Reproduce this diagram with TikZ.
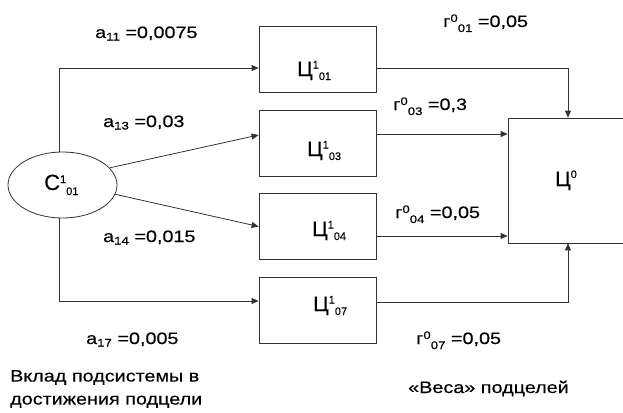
\documentclass[tikz,border=0pt]{standalone}
\usepackage{fontspec}
\setmainfont{Liberation Sans}[FakeBold=0.3]
\newfontfamily\labfam{Liberation Sans}[FakeStretch=1.2,FakeBold=0.4]
\usetikzlibrary{arrows.meta,shapes.geometric}

% small index shifted up (positive) or down (negative) by #1
\newcommand\idx[2]{\raisebox{#1}{\fontsize{11}{11}\selectfont #2}}
\newcommand\labfont{\labfam\fontsize{16.5}{19}\selectfont}
\newcommand\goalfont{\fontsize{21}{24}\selectfont}

\tikzset{
  wire/.style={draw=black!80, line width=0.8pt},
  arr/.style={wire, -{Triangle[length=7pt,width=6pt]}},
  goalbox/.style={draw=black!80, line width=0.8pt, rectangle,
    minimum width=117pt, minimum height=66pt, inner sep=0pt},
  srcnode/.style={draw=black!80, line width=0.8pt, ellipse,
    minimum width=109pt, minimum height=66pt, inner sep=0pt},
  lab/.style={anchor=base west, inner sep=0pt, font=\labfont},
  goaltxt/.style={anchor=base west, inner sep=0pt, font=\goalfont},
}

\begin{document}
\begin{tikzpicture}[x=1pt,y=-1pt]
\useasboundingbox (0,0) rectangle (623,412);

% source subsystem
\node[srcnode] (s) at (62.5,185) {};
\node[goaltxt, font=\fontsize{22}{24}\selectfont] (stxt) at (44,190)
  {С\idx{7pt}{1}\idx{-5pt}{01}};

% subgoals of level 1
\node[goalbox] (c01) at (317.5,59) {};
\node[goalbox] (c03) at (317.5,143) {};
\node[goalbox] (c04) at (317.5,226.5) {};
\node[goalbox] (c07) at (317.5,310) {};

\node[goaltxt] (t01) at (297,76) {Ц\idx{7.5pt}{1}\idx{-4pt}{01}};
\node[goaltxt] (t03) at (307,156) {Ц\idx{7.5pt}{1}\idx{-4pt}{03}};
\node[goaltxt] (t04) at (312,236) {Ц\idx{7.5pt}{1}\idx{-4pt}{04}};
\node[goaltxt] (t07) at (313,311) {Ц\idx{7.5pt}{1}\idx{-4pt}{07}};

% top-level goal (runs off the right edge)
\node[goalbox, minimum width=132pt, minimum height=125pt] (c0) at (574,180.5) {};
\node[goaltxt] (t0) at (555,186) {Ц\idx{8pt}{0}};

% contributions of the subsystem
\draw[arr] ([xshift=-3.5pt]s.north) |- (c01.west |- 0,68);
\draw[arr] (s.20) -- (c03.west |- 0,135);
\draw[arr] (s.-10) -- (c04.west);
\draw[arr] ([xshift=-3.5pt]s.south) |- (c07.west |- 0,301);

% weights of the subgoals
\draw[arr] (c01.east |- 0,68) -| ([xshift=-6pt]c0.north);
\draw[arr] (c03.east |- 0,134) -- (c0.west |- 0,134);
\draw[arr] (c04.east |- 0,236) -- (c0.west |- 0,236);
\draw[arr] (c07.east |- 0,302) -| ([xshift=-6pt]c0.south);

% coefficient labels
\node[lab] (a11) at (95,38) {a\idx{-2.5pt}{11} =0,0075};
\node[lab] (a13) at (103,127) {a\idx{-2.5pt}{13} =0,03};
\node[lab] (a14) at (103,242) {a\idx{-2.5pt}{14} =0,015};
\node[lab] (a17) at (86,344) {a\idx{-2.5pt}{17} =0,005};

\node[lab] (r01) at (443,27) {г\idx{5pt}{0}\idx{-5pt}{01} =0,05};
\node[lab] (r03) at (393,110) {г\idx{5pt}{0}\idx{-5pt}{03} =0,3};
\node[lab] (r04) at (395,218) {г\idx{5pt}{0}\idx{-5pt}{04} =0,05};
\node[lab] (r07) at (416,344) {г\idx{5pt}{0}\idx{-5pt}{07} =0,05};

% captions
\node[lab, anchor=north west, align=left, font=\labfam\fontsize{16.5}{23}\selectfont] (cap1) at (10,370)
  {Вклад подсистемы в\\достижения подцели};
\node[lab] (cap2) at (408,393) {«Веса» подцелей};
\end{tikzpicture}
\end{document}
